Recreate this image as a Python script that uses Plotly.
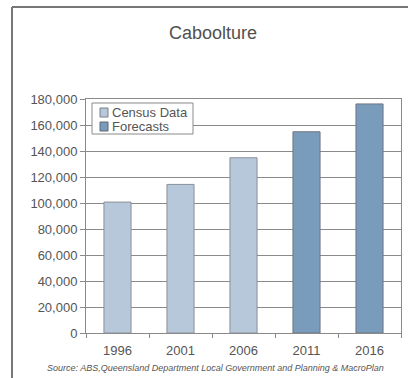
import plotly.graph_objects as go

years_census = ["1996", "2001", "2006"]
census_values = [100700, 114300, 134800]
years_forecast = ["2011", "2016"]
forecast_values = [154800, 176200]
all_years = ["1996", "2001", "2006", "2011", "2016"]
y_ticks = list(range(0, 180001, 20000))

census_color = "#b7c8db"
forecast_color = "#7a9cbc"

fig = go.Figure()
fig.add_trace(go.Bar(x=years_census, y=census_values, name="Census Data",
                     marker=dict(color=census_color, line=dict(color="#8a8f96", width=1))))
fig.add_trace(go.Bar(x=years_forecast, y=forecast_values, name="Forecasts",
                     marker=dict(color=forecast_color, line=dict(color="#6f7680", width=1))))

L, R, T, B = 86, 7, 99, 45
W, H = 408, 378
pw, ph = W - L - R, H - T - B

def px(x):
    return (x - L) / pw

def py(y):
    return 1 - (y - T) / ph

shapes = [
    dict(type="line", xref="paper", yref="paper", x0=px(12), x1=px(12),
         y0=py(7), y1=py(380), line=dict(color="#777777", width=2)),
    dict(type="line", xref="paper", yref="paper", x0=px(12), x1=px(412),
         y0=py(7), y1=py(7), line=dict(color="#777777", width=2)),
    # legend box
    dict(type="rect", xref="paper", yref="paper", x0=px(92), x1=px(193),
         y0=py(134), y1=py(103), fillcolor="white", line=dict(color="#8a8a8a", width=1),
         layer="above"),
    dict(type="rect", xref="paper", yref="paper", x0=px(100), x1=px(108),
         y0=py(117), y1=py(108), fillcolor=census_color, line=dict(color="#7a7f86", width=1),
         layer="above"),
    dict(type="rect", xref="paper", yref="paper", x0=px(100), x1=px(108),
         y0=py(131), y1=py(122), fillcolor=forecast_color, line=dict(color="#5f6670", width=1),
         layer="above"),
]

annotations = [
    dict(text="Source: ABS,Queensland Department Local Government and Planning & MacroPlan",
         xref="paper", yref="paper", x=px(215), y=py(368), xanchor="center", yanchor="middle",
         showarrow=False, font=dict(size=9, color="#555555", style="italic")),
    dict(text="Census Data", xref="paper", yref="paper", x=px(110), y=py(112.5),
         xanchor="left", yanchor="middle", showarrow=False,
         font=dict(size=13, color="#555555")),
    dict(text="Forecasts", xref="paper", yref="paper", x=px(110), y=py(126.5),
         xanchor="left", yanchor="middle", showarrow=False,
         font=dict(size=13, color="#555555")),
]

fig.update_layout(
    width=W, height=H,
    margin=dict(l=L, r=R, t=T, b=B),
    paper_bgcolor="white", plot_bgcolor="white",
    barmode="relative", bargap=0.57,
    font=dict(family="Liberation Sans, Arial, sans-serif", color="#555555", size=13),
    title=dict(text="Caboolture", x=px(213), xanchor="center", xref="paper",
               y=1 - 33 / H, yanchor="middle", font=dict(size=18, color="#505050")),
    showlegend=False,
    xaxis=dict(categoryorder="array", categoryarray=all_years, showgrid=False,
               showline=True, linecolor="#8a8a8a", linewidth=1, mirror=True,
               ticks="outside", tickson="boundaries", ticklen=4, tickcolor="#8a8a8a",
               ticklabelstandoff=5,
               tickfont=dict(size=13, color="#555555")),
    yaxis=dict(range=[0, 180000], tickvals=y_ticks, tickformat=",",
               showgrid=True, gridcolor="#8a8a8a", gridwidth=1,
               showline=True, linecolor="#8a8a8a", linewidth=1, mirror=True,
               ticks="outside", ticklen=5, tickcolor="#8a8a8a", zeroline=False,
               tickfont=dict(size=13, color="#555555")),
    shapes=shapes,
    annotations=annotations,
)

fig.write_html("out.html")
